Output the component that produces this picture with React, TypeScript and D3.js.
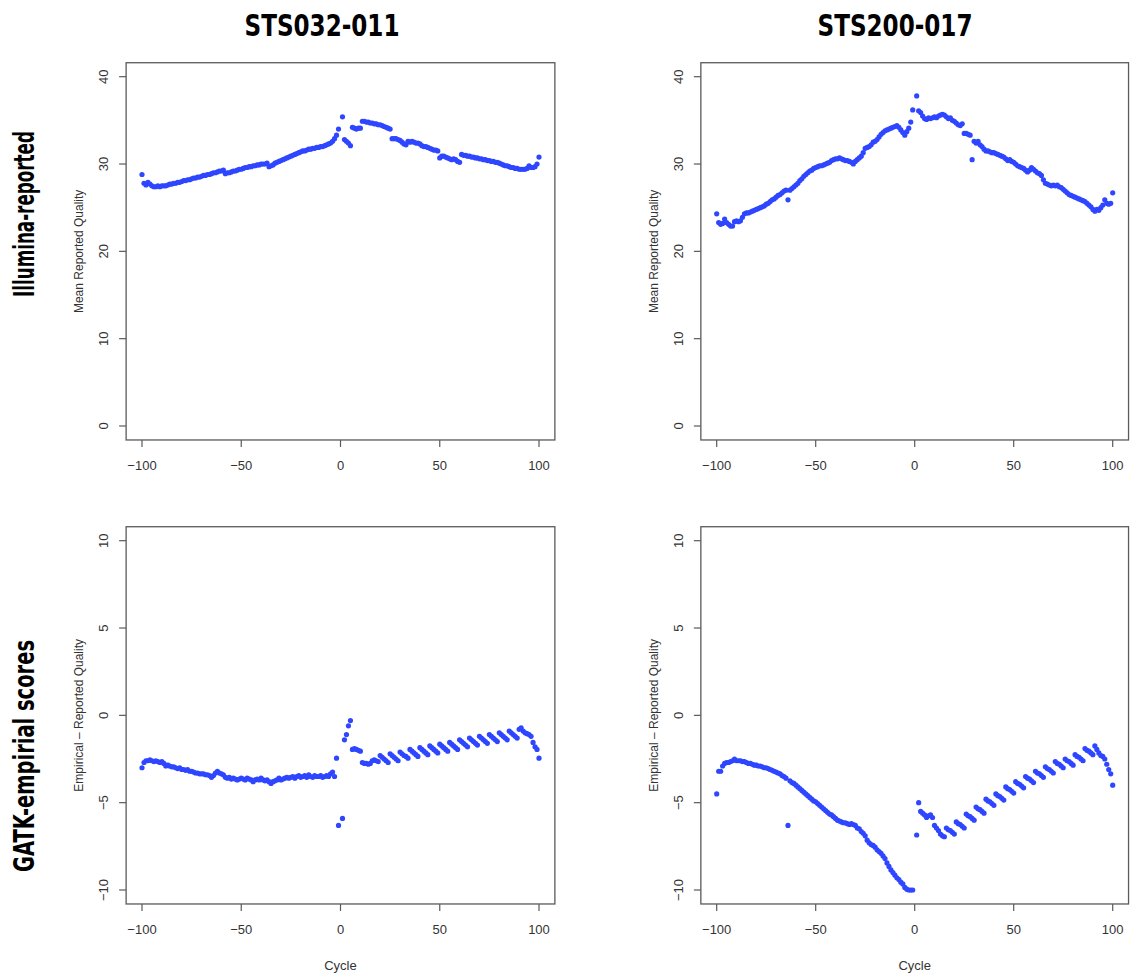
import React from 'react';
import * as d3 from 'd3';

// ---- categories / axes ----
const cyclesNeg = d3.range(-100, 0); // read 2 cycles
const cyclesPos = d3.range(1, 101); // read 1 cycles
const xTicks = [-100, -50, 0, 50, 100];
const yTicksTop = [0, 10, 20, 30, 40];
const yTicksBottom = [-10, -5, 0, 5, 10];
const sampleNames = ['STS032-011', 'STS200-017'];
const rowNames = ['Illumina-reported', 'GATK-empirial scores'];
const yTitles = ['Mean Reported Quality', 'Empirical \u2013 Reported Quality'];

// ---- STS032-011, Illumina-reported mean quality ----
const illum032Neg = [
  28.8, 27.8, 27.6, 27.9, 27.7, 27.5, 27.4, 27.4, 27.5, 27.4,
  27.5, 27.5, 27.5, 27.6, 27.7, 27.7, 27.8, 27.8, 27.9, 27.9,
  28.0, 28.1, 28.1, 28.2, 28.2, 28.3, 28.4, 28.4, 28.5, 28.5,
  28.6, 28.7, 28.7, 28.8, 28.8, 28.9, 29.0, 29.0, 29.1, 29.2,
  29.2, 29.3, 28.9, 29.0, 29.0, 29.1, 29.2, 29.2, 29.3, 29.4,
  29.4, 29.5, 29.6, 29.6, 29.7, 29.7, 29.8, 29.8, 29.9, 29.9,
  30.0, 30.0, 30.0, 30.1, 29.7, 29.8, 29.9, 30.1, 30.2, 30.3,
  30.4, 30.5, 30.6, 30.7, 30.8, 30.9, 31.0, 31.1, 31.2, 31.3,
  31.4, 31.5, 31.5, 31.6, 31.7, 31.7, 31.8, 31.8, 31.9, 31.9,
  32.0, 32.0, 32.1, 32.2, 32.3, 32.4, 32.6, 32.9, 33.3, 34.0,
];
const illum032Pos = [
  35.4, 32.8, 32.6, 32.4, 32.1, 34.2, 34.1, 34.0, 34.1, 34.1,
  34.9, 34.9, 34.8, 34.8, 34.7, 34.7, 34.6, 34.6, 34.5, 34.5,
  34.4, 34.3, 34.2, 34.1, 34.0, 32.9, 32.9, 32.9, 32.8, 32.7,
  32.5, 32.3, 32.2, 32.6, 32.5, 32.6, 32.5, 32.4, 32.4, 32.3,
  32.1, 32.0, 32.0, 31.9, 31.8, 31.7, 31.6, 31.6, 31.5, 30.7,
  30.9, 30.9, 30.8, 30.7, 30.6, 30.5, 30.6, 30.5, 30.3, 30.2,
  31.1, 31.0, 31.0, 30.9, 30.9, 30.8, 30.8, 30.7, 30.7, 30.6,
  30.6, 30.5, 30.5, 30.4, 30.4, 30.3, 30.3, 30.2, 30.2, 30.1,
  30.0, 29.9, 29.8, 29.8, 29.7, 29.6, 29.6, 29.5, 29.5, 29.4,
  29.4, 29.4, 29.4, 29.5, 29.8, 29.6, 29.6, 29.7, 30.0, 30.8,
];

// ---- STS200-017, Illumina-reported mean quality ----
const illum200Neg = [
  24.3, 23.3, 23.1, 23.2, 23.7, 23.3, 23.1, 22.9, 22.9, 23.4,
  23.5, 23.4, 23.5, 23.9, 24.3, 24.4, 24.4, 24.5, 24.6, 24.7,
  24.8, 24.9, 25.0, 25.1, 25.2, 25.4, 25.5, 25.7, 25.9, 26.0,
  26.2, 26.4, 26.5, 26.7, 26.9, 27.0, 25.9, 27.0, 27.2, 27.4,
  27.6, 27.8, 28.1, 28.3, 28.6, 28.8, 29.0, 29.2, 29.3, 29.5,
  29.6, 29.7, 29.8, 29.8, 29.9, 30.0, 30.1, 30.2, 30.4, 30.5,
  30.6, 30.6, 30.7, 30.6, 30.5, 30.4, 30.4, 30.3, 30.2, 30.0,
  30.3, 30.5, 30.7, 30.9, 31.3, 31.8, 31.9, 32.0, 32.2, 32.5,
  32.6, 32.8, 33.1, 33.4, 33.6, 33.8, 33.9, 34.0, 34.1, 34.2,
  34.3, 34.4, 34.2, 33.9, 33.6, 33.3, 33.7, 34.1, 34.8, 36.2,
];
const illum200Pos = [
  37.8, 36.1, 35.9, 35.5, 35.2, 35.1, 35.3, 35.2, 35.3, 35.4,
  35.3, 35.5, 35.6, 35.7, 35.6, 35.4, 35.2, 35.3, 35.0, 34.9,
  34.7, 34.5, 34.4, 34.6, 33.5, 33.5, 33.4, 33.3, 30.5, 32.6,
  32.4, 32.6, 32.2, 32.0, 31.7, 31.5, 31.5, 31.4, 31.3, 31.3,
  31.2, 31.1, 31.0, 30.9, 30.8, 30.6, 30.4, 30.5, 30.3, 30.2,
  30.0, 29.8, 29.7, 29.6, 29.5, 29.3, 29.1, 29.3, 29.6, 29.4,
  29.2, 29.0, 28.9, 28.7, 28.2, 27.8, 27.7, 27.6, 27.5, 27.6,
  27.5, 27.6, 27.4, 27.3, 27.1, 26.9, 26.7, 26.5, 26.4, 26.3,
  26.2, 26.1, 26.0, 25.9, 25.8, 25.7, 25.5, 25.3, 25.1, 24.8,
  24.6, 24.8, 24.7, 25.0, 25.3, 25.9, 25.5, 25.4, 25.5, 26.7,
];

// ---- STS032-011, empirical - reported ----
const gatk032Neg = [
  -3.0, -2.7, -2.6, -2.6, -2.55, -2.6, -2.65, -2.6, -2.65, -2.7,
  -2.65, -2.75, -2.9, -2.85, -2.9, -2.95, -2.95, -3.0, -3.05, -3.0,
  -3.1, -3.1, -3.15, -3.1, -3.2, -3.2, -3.25, -3.3, -3.3, -3.35,
  -3.35, -3.35, -3.4, -3.4, -3.45, -3.55, -3.45, -3.3, -3.2, -3.3,
  -3.35, -3.4, -3.55, -3.6, -3.55, -3.65, -3.6, -3.65, -3.7, -3.65,
  -3.6, -3.65, -3.7, -3.6, -3.65, -3.7, -3.8, -3.7, -3.65, -3.7,
  -3.6, -3.7, -3.75, -3.7, -3.8, -3.9, -3.8, -3.75, -3.7, -3.6,
  -3.7, -3.65, -3.6, -3.55, -3.6, -3.55, -3.5, -3.6, -3.5, -3.45,
  -3.55, -3.5, -3.45, -3.55, -3.4, -3.5, -3.55, -3.45, -3.5, -3.5,
  -3.45, -3.55, -3.5, -3.45, -3.5, -3.35, -3.25, -3.5, -2.45, -6.3,
];
const gatk032Pos = [
  -5.9, -1.4, -1.1, -0.6, -0.3, -1.95, -1.9, -1.95, -2.0, -2.05,
  -2.7, -2.75, -2.75, -2.8, -2.75, -2.6, -2.55, -2.6, -2.65, -2.3,
  -2.4, -2.5, -2.6, -2.7, -2.2, -2.3, -2.4, -2.5, -2.6, -2.1,
  -2.2, -2.3, -2.35, -2.45, -1.95, -2.05, -2.15, -2.25, -2.35, -1.85,
  -1.95, -2.05, -2.15, -2.25, -1.75, -1.85, -1.95, -2.05, -2.15, -1.65,
  -1.75, -1.85, -1.95, -2.05, -1.55, -1.65, -1.75, -1.85, -1.95, -1.4,
  -1.5, -1.6, -1.7, -1.8, -1.3, -1.4, -1.5, -1.6, -1.7, -1.2,
  -1.3, -1.4, -1.5, -1.6, -1.1, -1.2, -1.3, -1.4, -1.5, -1.0,
  -1.1, -1.2, -1.3, -1.4, -0.9, -1.0, -1.1, -1.2, -1.3, -0.8,
  -0.72, -0.9, -1.0, -1.05, -1.1, -1.2, -1.55, -1.8, -1.95, -2.45,
];

// ---- STS200-017, empirical - reported ----
const gatk200Neg = [
  -4.5, -3.2, -3.2, -2.9, -2.75, -2.7, -2.7, -2.65, -2.6, -2.5,
  -2.6, -2.6, -2.6, -2.65, -2.65, -2.7, -2.75, -2.75, -2.8, -2.85,
  -2.85, -2.9, -2.9, -2.95, -3.0, -3.0, -3.05, -3.1, -3.15, -3.2,
  -3.25, -3.3, -3.35, -3.45, -3.5, -3.6, -6.3, -3.75, -3.85, -3.9,
  -4.0, -4.1, -4.2, -4.3, -4.4, -4.5, -4.6, -4.7, -4.8, -4.9,
  -4.95, -5.05, -5.15, -5.25, -5.35, -5.45, -5.55, -5.65, -5.7, -5.8,
  -5.9, -6.0, -6.05, -6.1, -6.15, -6.15, -6.2, -6.25, -6.2, -6.25,
  -6.3, -6.45, -6.5, -6.65, -6.75, -6.9, -7.15, -7.3, -7.4, -7.45,
  -7.55, -7.7, -7.8, -7.9, -8.05, -8.2, -8.45, -8.65, -8.85, -9.0,
  -9.15, -9.3, -9.4, -9.55, -9.65, -9.85, -9.95, -10.0, -10.0, -10.0,
];
const gatk200Pos = [
  -6.85, -5.0, -5.5, -5.6, -5.7, -5.85, -5.75, -5.7, -5.85, -6.3,
  -6.45, -6.6, -6.8, -6.9, -6.95, -6.45, -6.55, -6.6, -6.7, -6.8,
  -6.1, -6.2, -6.25, -6.35, -6.45, -5.65, -5.75, -5.8, -5.9, -6.0,
  -5.25, -5.35, -5.4, -5.5, -5.6, -4.8, -4.9, -4.95, -5.05, -5.15,
  -4.5, -4.6, -4.65, -4.75, -4.85, -4.1, -4.2, -4.25, -4.35, -4.45,
  -3.8, -3.9, -3.95, -4.05, -4.15, -3.5, -3.6, -3.65, -3.75, -3.85,
  -3.2, -3.3, -3.35, -3.45, -3.55, -2.95, -3.05, -3.1, -3.2, -3.3,
  -2.65, -2.75, -2.8, -2.9, -3.0, -2.5, -2.6, -2.65, -2.75, -2.85,
  -2.25, -2.35, -2.4, -2.5, -2.6, -1.9, -2.0, -2.05, -2.15, -2.25,
  -1.75, -1.95, -2.15, -2.3, -2.35, -2.5, -2.8, -3.1, -3.35, -4.0,
];

const DOT = '#2e46ff';
const AXIS = '#5a5a5a';
const TEXT = '#333';
const FONT = "'Liberation Sans', Arial, Helvetica, sans-serif";
const BOLD_FONT = "'Liberation Sans Narrow', 'DejaVu Sans Condensed', 'Open Sans', sans-serif";

const fmt = (v: number) => (v < 0 ? '\u2212' + Math.abs(v) : String(v));

type PanelProps = {
  xPx: [number, number];
  yPx: [number, number];
  yTicks: number[];
  yPad: number;
  neg: number[];
  pos: number[];
  yTitle: string;
  showCycle: boolean;
};

function Panel({ xPx, yPx, yTicks, yPad, neg, pos, yTitle, showCycle }: PanelProps) {
  const x = d3.scaleLinear().domain([-100, 100]).range(xPx);
  const lo = yTicks[0];
  const hi = yTicks[yTicks.length - 1];
  const y = d3.scaleLinear().domain([lo, hi]).range(yPx);
  const bx0 = x(-108);
  const bx1 = x(108);
  const by0 = y(hi + yPad);
  const by1 = y(lo - yPad);
  const pts = [
    ...cyclesNeg.map((c, i) => ({ c, v: neg[i] })),
    ...cyclesPos.map((c, i) => ({ c, v: pos[i] })),
  ];
  const tick = 7;
  const midY = (by0 + by1) / 2;
  const midX = (bx0 + bx1) / 2;
  return (
    <g>
      <rect x={bx0} y={by0} width={bx1 - bx0} height={by1 - by0} fill="none" stroke={AXIS} strokeWidth={1.3} />
      {xTicks.map((t) => (
        <g key={'x' + t}>
          <line x1={x(t)} x2={x(t)} y1={by1} y2={by1 + tick} stroke={AXIS} strokeWidth={1.2} />
          <text x={x(t)} y={by1 + 30} textAnchor="middle" fontSize={13} fill={TEXT} fontFamily={FONT}>
            {fmt(t)}
          </text>
        </g>
      ))}
      {yTicks.map((t) => (
        <g key={'y' + t}>
          <line x1={bx0 - tick} x2={bx0} y1={y(t)} y2={y(t)} stroke={AXIS} strokeWidth={1.2} />
          <text
            transform={`translate(${bx0 - 18},${y(t)}) rotate(-90)`}
            textAnchor="middle"
            fontSize={13}
            fill={TEXT}
            fontFamily={FONT}
          >
            {fmt(t)}
          </text>
        </g>
      ))}
      <text
        transform={`translate(${bx0 - 43},${midY}) rotate(-90)`}
        textAnchor="middle"
        fontSize={12}
        fill={TEXT}
        fontFamily={FONT}
      >
        {yTitle}
      </text>
      {showCycle && (
        <text x={midX} y={by1 + 66} textAnchor="middle" fontSize={13} fill={TEXT} fontFamily={FONT}>
          Cycle
        </text>
      )}
      {pts.map((p) => (
        <circle key={p.c} cx={x(p.c)} cy={y(p.v)} r={2.6} fill={DOT} />
      ))}
    </g>
  );
}

export default function App() {
  const colX: [number, number][] = [
    [142, 539],
    [716.7, 1112.7],
  ];
  const topY: [number, number] = [426, 76.7];
  const botY: [number, number] = [890, 540.7];
  const titleX = [322, 895];
  return (
    <svg
      width={1130}
      height={973}
      style={{ position: 'absolute', left: 0, top: 0, background: '#fff' }}
    >
      <rect width={1130} height={973} fill="#fff" />
      {sampleNames.map((s, i) => (
        <text
          key={s}
          x={titleX[i]}
          y={36}
          textAnchor="middle"
          fontSize={30}
          fontWeight="bold"
          fontFamily={BOLD_FONT}
          fill="#000"
          textLength={155}
          lengthAdjust="spacingAndGlyphs"
        >
          {s}
        </text>
      ))}
      <text
        transform="translate(34,214) rotate(-90)"
        textAnchor="middle"
        fontSize={29}
        fontWeight="bold"
        fontFamily={BOLD_FONT}
        fill="#000"
        textLength={166}
        lengthAdjust="spacingAndGlyphs"
      >
        {rowNames[0]}
      </text>
      <text
        transform="translate(34,756) rotate(-90)"
        textAnchor="middle"
        fontSize={29}
        fontWeight="bold"
        fontFamily={BOLD_FONT}
        fill="#000"
        textLength={232}
        lengthAdjust="spacingAndGlyphs"
      >
        {rowNames[1]}
      </text>
      <Panel xPx={colX[0]} yPx={topY} yTicks={yTicksTop} yPad={1.6} neg={illum032Neg} pos={illum032Pos} yTitle={yTitles[0]} showCycle={false} />
      <Panel xPx={colX[1]} yPx={topY} yTicks={yTicksTop} yPad={1.6} neg={illum200Neg} pos={illum200Pos} yTitle={yTitles[0]} showCycle={false} />
      <Panel xPx={colX[0]} yPx={botY} yTicks={yTicksBottom} yPad={0.8} neg={gatk032Neg} pos={gatk032Pos} yTitle={yTitles[1]} showCycle={true} />
      <Panel xPx={colX[1]} yPx={botY} yTicks={yTicksBottom} yPad={0.8} neg={gatk200Neg} pos={gatk200Pos} yTitle={yTitles[1]} showCycle={true} />
    </svg>
  );
}
